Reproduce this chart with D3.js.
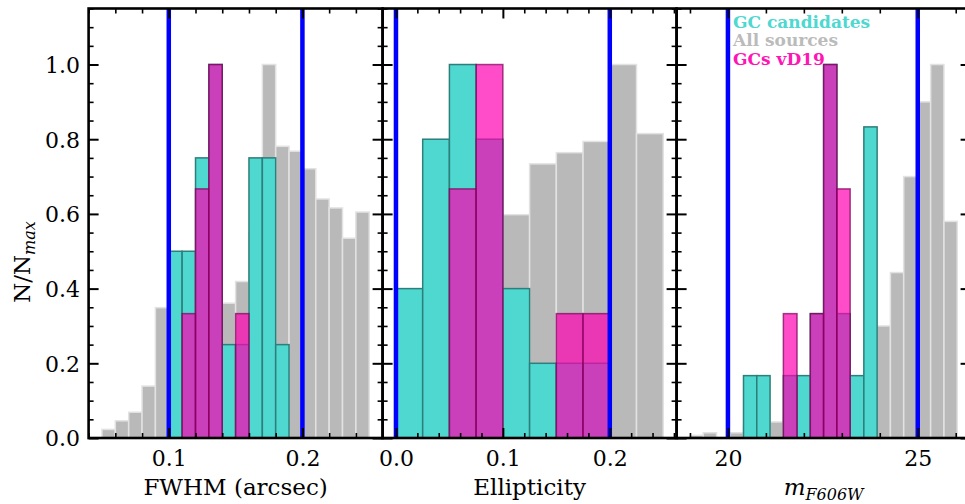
<!DOCTYPE html>
<html><head><meta charset="utf-8">
<script src="https://cdn.jsdelivr.net/npm/d3@7"></script>
<style>body{margin:0;background:#fff}</style>
</head><body>
<svg id="c" width="965" height="504" xmlns="http://www.w3.org/2000/svg"></svg>
<script>
// ---------- DATA ----------
const fwhmEdges = [0.05,0.06,0.07,0.08,0.09,0.10,0.11,0.12,0.13,0.14,0.15,0.16,0.17,0.18,0.19,0.20,0.21,0.22,0.23,0.24,0.25];
const fwhmAll   = [0.023,0.046,0.069,0.139,0.349,0.38,0.40,0.42,0.40,0.361,0.419,0.55,1.0,0.781,0.768,0.721,0.640,0.616,0.535,0.605];
const fwhmGC    = [0,0,0,0,0,0.5,0.5,0.75,1.0,0.25,0.25,0.75,0.75,0.25,0,0,0,0,0,0];
const fwhmVD19  = [0,0,0,0,0,0,0.333,0.667,1.0,0,0.333,0,0,0,0,0,0,0,0,0];
const fwhmCuts  = [0.1,0.2];
const fwhmTicks = [0.1,0.2];

const ellEdges = [0,0.025,0.05,0.075,0.1,0.125,0.15,0.175,0.2,0.225,0.25];
const ellAll   = [0.15,0.35,0.45,0.5,0.598,0.734,0.764,0.794,1.0,0.815];
const ellGC    = [0.4,0.8,1.0,0.8,0.4,0.2,0.2,0.2,0,0];
const ellVD19  = [0,0,0.667,1.0,0,0,0.333,0.333,0,0];
const ellCuts  = [0.0,0.2];
const ellTicks = [0.0,0.1,0.2];

const magEdges = [19.00,19.35,19.70,20.06,20.41,20.76,21.11,21.46,21.82,22.17,22.52,22.87,23.22,23.58,23.93,24.28,24.63,24.98,25.34,25.69,26.04];
const magAll   = [0.007,0.014,0,0.014,0.03,0.035,0.043,0.06,0.08,0.10,0.12,0.14,0.16,0.22,0.30,0.443,0.70,0.90,1.0,0.58];
const magGC    = [0,0,0,0,0.167,0.167,0,0.167,0.167,0.333,1.0,0.333,0.167,0.833,0,0,0,0,0,0];
const magVD19  = [0,0,0,0,0,0,0,0.333,0,0.333,1.0,0.667,0,0,0,0,0,0,0,0];
const magCuts  = [20,25];
const magTicks = [20,25];

const yTicks = [0.0,0.2,0.4,0.6,0.8,1.0];
const legendLabels = ["GC candidates","All sources","GCs vD19"];

// ---------- LAYOUT ----------
const TOP = 8.5, BOT = 438;
const FONT = "'DejaVu Serif', 'Liberation Serif', serif";
const panels = [
  {edges:fwhmEdges, all:fwhmAll, gc:fwhmGC, vd:fwhmVD19, cuts:fwhmCuts, ticks:fwhmTicks, fmt:d3.format(".1f"),
   domain:[0.04,0.26], range:[88.6,382.6], minorStep:0.02, label:"FWHM (arcsec)"},
  {edges:ellEdges, all:ellAll, gc:ellGC, vd:ellVD19, cuts:ellCuts, ticks:ellTicks, fmt:d3.format(".1f"),
   domain:[-0.0125,0.2625], range:[382.6,676.6], minorStep:0.02, label:"Ellipticity"},
  {edges:magEdges, all:magAll, gc:magGC, vd:magVD19, cuts:magCuts, ticks:magTicks, fmt:d3.format("d"),
   domain:[18.648,26.392], range:[676.6,970.6], minorStep:1, label:null}
];

const svg = d3.select("#c");
const y = d3.scaleLinear().domain([0,1.15]).range([BOT,TOP]);
const styles = {
  all:{fill:"#b9b9b9", fo:1, stroke:"#e2e2e2", so:1, sw:1.5},
  gc: {fill:"#4ed8d0", fo:1, stroke:"#2e7e7a", so:1, sw:1.5},
  vd: {fill:"rgb(255,0,176)", fo:0.7, stroke:"#7a0058", so:0.7, sw:1.5}
};

panels.forEach((p,i)=>{
  const x = d3.scaleLinear().domain(p.domain).range(p.range);
  const g = svg.append("g");
  const cid = "clip"+i;
  svg.append("clipPath").attr("id",cid).append("rect")
    .attr("x",p.range[0]).attr("y",TOP).attr("width",p.range[1]-p.range[0]).attr("height",BOT-TOP);
  const bars = g.append("g").attr("clip-path",`url(#${cid})`);
  ["all","gc","vd"].forEach(key=>{
    const st = styles[key];
    const data = p[key].map((v,k)=>({x0:p.edges[k], x1:p.edges[k+1], v})).filter(d=>d.v>0);
    bars.append("g").selectAll("rect").data(data).join("rect")
      .attr("x",d=>x(d.x0)).attr("width",d=>x(d.x1)-x(d.x0))
      .attr("y",d=>y(d.v)).attr("height",d=>y(0)-y(d.v))
      .attr("fill",st.fill).attr("fill-opacity",st.fo)
      .attr("stroke",st.stroke).attr("stroke-opacity",st.so).attr("stroke-width",st.sw);
  });
  bars.append("g").selectAll("line").data(p.cuts).join("line")
    .attr("x1",d=>x(d)).attr("x2",d=>x(d)).attr("y1",TOP).attr("y2",BOT)
    .attr("stroke","#0000ff").attr("stroke-width",4.5);

  // ticks
  const minorX = p.minorStep===1
    ? d3.range(19,27).filter(v=>!p.ticks.includes(v))
    : d3.range(Math.ceil(p.domain[0]/p.minorStep-1e-9)*p.minorStep, p.domain[1]+1e-9, p.minorStep)
        .filter(v=>!p.ticks.some(t=>Math.abs(t-v)<1e-6));
  const minorY = d3.range(0.05,1.151,0.05).filter(v=>Math.abs(v*5-Math.round(v*5))>1e-6);

  const ax = (axis, tr) => {
    const a = g.append("g").attr("transform",tr).call(axis);
    a.select(".domain").remove();
    a.selectAll(".tick line").attr("stroke","#000");
    a.selectAll("text").attr("font-family",FONT).attr("font-size",22).attr("fill","#000");
    return a;
  };
  const bMaj = ax(d3.axisBottom(x).tickValues(p.ticks).tickSize(-10).tickPadding(12.4).tickFormat(p.fmt), `translate(0,${BOT})`);
  bMaj.selectAll(".tick line").attr("stroke-width",2);
  ax(d3.axisBottom(x).tickValues(minorX).tickSize(-5).tickFormat(""), `translate(0,${BOT})`).selectAll(".tick line").attr("stroke-width",1.6);
  ax(d3.axisTop(x).tickValues(p.ticks).tickSize(-10).tickFormat(""), `translate(0,${TOP})`).selectAll(".tick line").attr("stroke-width",2);
  ax(d3.axisTop(x).tickValues(minorX).tickSize(-5).tickFormat(""), `translate(0,${TOP})`).selectAll(".tick line").attr("stroke-width",1.6);
  const lMaj = ax(d3.axisLeft(y).tickValues(yTicks).tickSize(-10).tickPadding(8.6).tickFormat(i===0?d3.format(".1f"):""), `translate(${p.range[0]},0)`);
  lMaj.selectAll(".tick line").attr("stroke-width",2);
  lMaj.selectAll("text").attr("dy","0.36em");
  ax(d3.axisLeft(y).tickValues(minorY).tickSize(-5).tickFormat(""), `translate(${p.range[0]},0)`).selectAll(".tick line").attr("stroke-width",1.6);
  ax(d3.axisRight(y).tickValues(yTicks).tickSize(-10).tickFormat(""), `translate(${p.range[1]},0)`).selectAll(".tick line").attr("stroke-width",2);
  ax(d3.axisRight(y).tickValues(minorY).tickSize(-5).tickFormat(""), `translate(${p.range[1]},0)`).selectAll(".tick line").attr("stroke-width",1.6);

  g.append("rect").attr("x",p.range[0]).attr("y",TOP).attr("width",p.range[1]-p.range[0]).attr("height",BOT-TOP)
    .attr("fill","none").attr("stroke","#000").attr("stroke-width",2.6);

  const cx = (p.range[0]+p.range[1])/2;
  if (p.label) {
    g.append("text").attr("x",cx).attr("y",495).attr("text-anchor","middle")
      .attr("font-family",FONT).attr("font-size",23).text(p.label);
  } else {
    const t = g.append("text").attr("x",cx).attr("y",495).attr("text-anchor","middle")
      .attr("font-family",FONT).attr("font-size",23).attr("font-style","italic");
    t.append("tspan").text("m");
    t.append("tspan").attr("font-size",16).attr("dy",5).text("F606W");
  }
});

const yl = svg.append("text").attr("transform","translate(30,262) rotate(-90)")
  .attr("text-anchor","middle").attr("font-family",FONT).attr("font-size",23);
yl.append("tspan").text("N/N");
yl.append("tspan").attr("font-size",16).attr("font-style","italic").attr("dy",5).text("max");

const legendColors = ["#4ed8d0","#bbbbbb","#ff14b4"];
svg.append("g").selectAll("text").data(legendLabels).join("text")
  .attr("x",733).attr("y",(d,k)=>28+k*18.3)
  .attr("font-family",FONT).attr("font-weight","bold").attr("font-size",17)
  .attr("fill",(d,k)=>legendColors[k]).text(d=>d);
</script>
</body></html>
